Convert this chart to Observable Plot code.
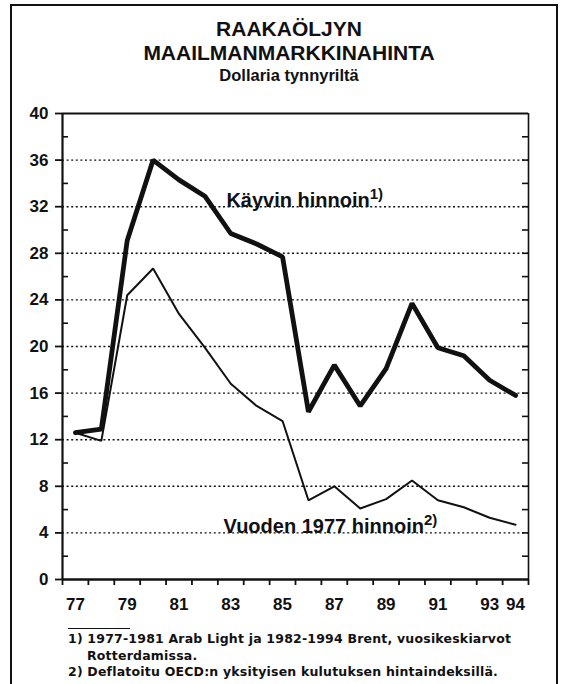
<!DOCTYPE html>
<html><head><meta charset="utf-8">
<script src="https://cdn.jsdelivr.net/npm/d3@7"></script>
<script src="https://cdn.jsdelivr.net/npm/@observablehq/plot@0.6"></script>
<style>
html,body{margin:0;padding:0;background:#fff;}
body{width:562px;height:684px;position:relative;overflow:hidden;font-family:"Liberation Sans",Arial,sans-serif;font-weight:bold;color:#111;}
#frame{position:absolute;left:10px;top:4px;width:548px;height:720px;border:2.5px solid #111;box-sizing:border-box;}
.t{position:absolute;left:0;width:578px;text-align:center;white-space:nowrap;}
.t1{top:17px;font-size:21px;line-height:23.5px;}
.t2{top:66px;font-size:16.5px;line-height:18px;}
#chart{position:absolute;left:0;top:0;}
#sep{position:absolute;left:68px;top:628px;width:62px;border-top:1.5px solid #111;}
.fn{position:absolute;left:68px;font-family:"DejaVu Sans",sans-serif;font-weight:bold;font-size:12.5px;line-height:12.5px;letter-spacing:0.2px;white-space:nowrap;}
</style>
</head><body>
<div id="frame"></div>
<div class="t t1">RAAKAÖLJYN<br>MAAILMANMARKKINAHINTA</div>
<div class="t t2">Dollaria tynnyriltä</div>
<div id="chart"></div>
<div id="sep"></div>
<div class="fn" style="top:633px">1) 1977-1981 Arab Light ja 1982-1994 Brent, vuosikeskiarvot</div>
<div class="fn" style="top:650px;left:87px">Rotterdamissa.</div>
<div class="fn" style="top:666px">2) Deflatoitu OECD:n yksityisen kulutuksen hintaindeksillä.</div>
<script>
// ---- data ----
const years = [1977,1978,1979,1980,1981,1982,1983,1984,1985,1986,1987,1988,1989,1990,1991,1992,1993,1994];
const nominal = [12.6,12.9,29.1,36.0,34.3,32.9,29.7,28.8,27.7,14.4,18.4,14.9,18.1,23.7,19.9,19.2,17.1,15.8];
const real    = [12.6,11.9,24.4,26.7,22.8,19.9,16.8,14.9,13.6,6.8,8.0,6.1,6.9,8.5,6.8,6.2,5.3,4.7];
const yTicks = [0,4,8,12,16,20,24,28,32,36,40];
const yMinor = [2,6,10,14,18,22,26,30,34,38];
const yRight = [2,4,6,8,10,12,14,16,18,20,22,24,26,28,30,32,34,36,38];
const gridY = [4,8,12,16,20,24,28,32,36];
const xLabelYears = [1977,1979,1981,1983,1985,1987,1989,1991,1993,1994];
const labelText = ["Käyvin hinnoin","Vuoden 1977 hinnoin"];
const labelSup = ["1)","2)"];
const labelX = [1982.83,1982.72];
const labelY = [32,4];

// ---- build ----
const W = 562, H = 630, mL = 62, mR = 34, mT = 113, mB = 51;
const innerW = W - mL - mR;
const xDomain = [years[0]-0.5, years[years.length-1]+0.5];
const edges = [...years.map(y => y-0.5), years[years.length-1]+0.5];
const nomData = years.map((y,i) => ({year:y, v:nominal[i]}));
const realData = years.map((y,i) => ({year:y, v:real[i]}));
const labels = labelText.map((t,i) => ({t, x:labelX[i], y:labelY[i], s:labelSup[i]}));

const chart = Plot.plot({
  width: W, height: H, marginLeft: mL, marginRight: mR, marginTop: mT, marginBottom: mB,
  style: {fontFamily: '"Liberation Sans", Arial, sans-serif', fontWeight: "bold", fontSize: "17px", color: "#111", background: "transparent"},
  x: {domain: xDomain, axis: null, label: null},
  y: {domain: [0,40], axis: null, label: null},
  marks: [
    Plot.ruleY(gridY, {stroke:"#111", strokeWidth:1.4, strokeDasharray:"2,2.6"}),
    Plot.tickY(yMinor, {stroke:"#111", strokeWidth:1.6, insetRight: innerW-6}),
    Plot.tickY(yRight, {stroke:"#111", strokeWidth:1.6, insetLeft: innerW-6}),
    Plot.axisY(yTicks, {anchor:"left", tickSize:7, tickPadding:7, fontSize:17, strokeWidth:1.8, label:null}),
    Plot.axisX(edges, {anchor:"bottom", tickSize:6, tickFormat: () => "", strokeWidth:1.8, label:null}),
    Plot.axisX(xLabelYears, {anchor:"bottom", tickSize:0, tickPadding:18, tickFormat: d => String(d).slice(2), fontSize:17, label:null}),
    Plot.ruleY([40], {stroke:"#111", strokeWidth:2}),
    Plot.ruleY([0], {stroke:"#111", strokeWidth:2.5}),
    Plot.ruleX([xDomain[0]], {stroke:"#111", strokeWidth:2.2}),
    Plot.ruleX([xDomain[1]], {stroke:"#111", strokeWidth:1.6}),
    Plot.line(realData, {x:"year", y:"v", stroke:"#111", strokeWidth:2, strokeLinejoin:"miter"}),
    Plot.line(nomData, {x:"year", y:"v", stroke:"#111", strokeWidth:4.8, strokeLinejoin:"miter"}),
    Plot.text(labels, {x:"x", y:"y", text:"t", textAnchor:"start", lineAnchor:"bottom", fontSize:20, fontWeight:"bold", fill:"#111", className:"slabel"})
  ]
});
document.getElementById("chart").appendChild(chart);
// superscript footnote marks
const ns = "http://www.w3.org/2000/svg";
chart.querySelectorAll(".slabel text").forEach((el,i) => {
  const ts = document.createElementNS(ns, "tspan");
  ts.setAttribute("dy", "-8");
  ts.setAttribute("font-size", "15");
  ts.textContent = labels[i].s;
  el.appendChild(ts);
});
</script>
</body></html>
